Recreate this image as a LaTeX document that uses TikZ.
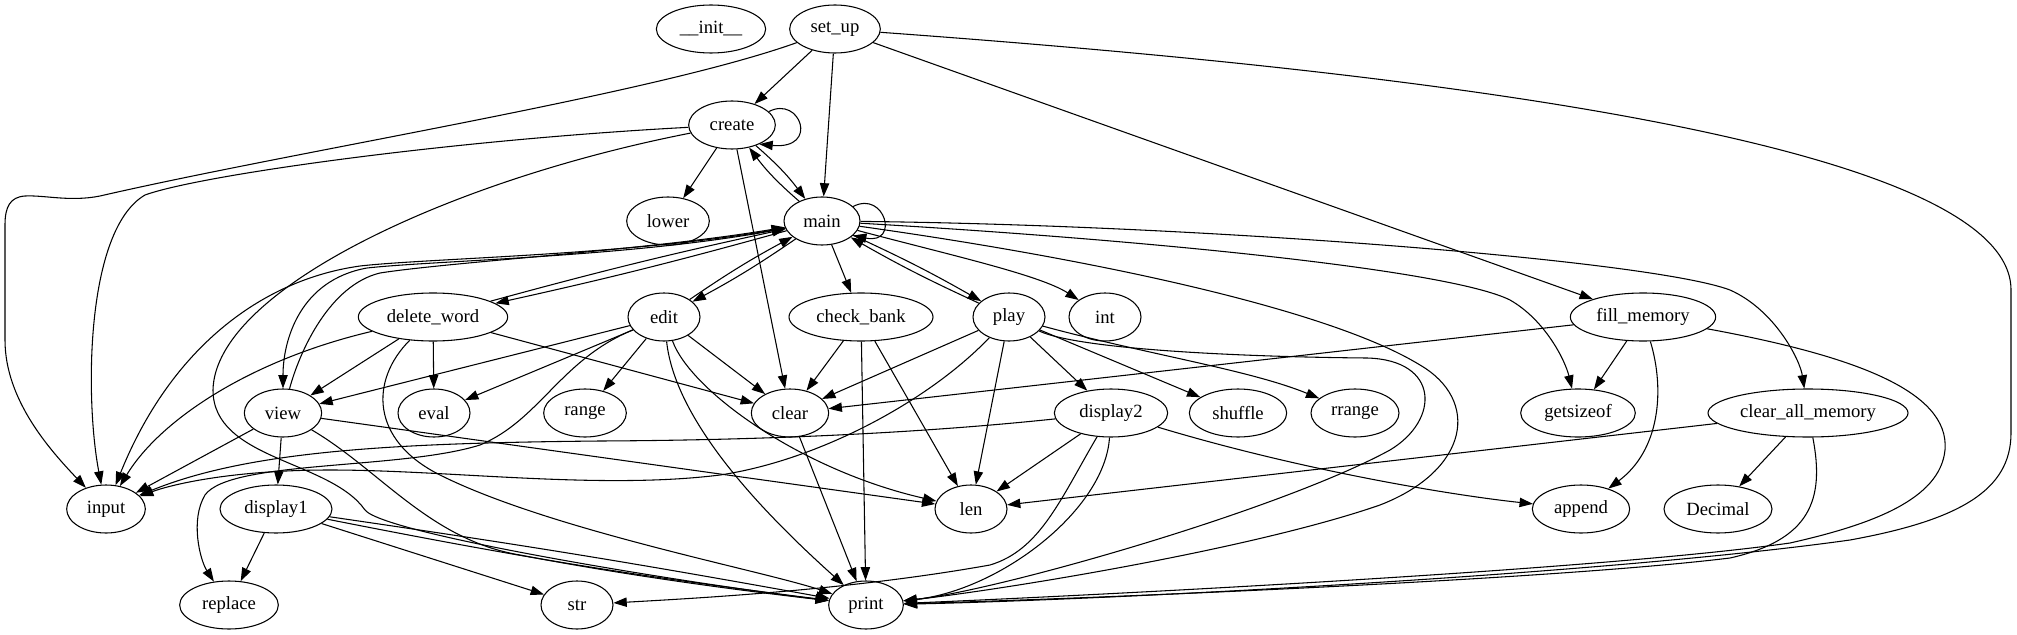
\documentclass[tikz,border=0pt]{standalone}
\usepackage{fontspec}
\setmainfont{Liberation Serif}
\usetikzlibrary{shapes.geometric,arrows.meta}
\begin{document}
\begin{tikzpicture}[x=0.75pt,y=-0.75pt,
  gn/.style={draw,ellipse,inner sep=0pt,minimum height=36pt,line width=0.8pt,font=\fontsize{14}{16}\selectfont},
  e/.style={-{Triangle[length=10pt,width=7pt]},line width=0.8pt}]
\useasboundingbox (0,0) rectangle (2017,635);
% nodes
\node[gn,minimum width=82pt] (init) at (711,29) {\_\_init\_\_};
\node[gn,minimum width=68pt] (setup) at (835,29) {set\_up};
\node[gn,minimum width=65pt] (create) at (732,125) {create};
\node[gn,minimum width=62pt] (lower) at (668,221) {lower};
\node[gn,minimum width=57pt] (main) at (822,221) {main};
\node[gn,minimum width=112pt] (delw) at (433,317) {delete\_word};
\node[gn,minimum width=54pt] (edit) at (664,317) {edit};
\node[gn,minimum width=108pt] (checkb) at (861,317) {check\_bank};
\node[gn,minimum width=54pt] (play) at (1009,317) {play};
\node[gn,minimum width=54pt] (int) at (1105,317) {int};
\node[gn,minimum width=109pt] (fillmem) at (1643,317) {fill\_memory};
\node[gn,minimum width=58pt] (view) at (283,413) {view};
\node[gn,minimum width=54pt] (eval) at (434,413) {eval};
\node[gn,minimum width=62pt] (range) at (585,413) {range};
\node[gn,minimum width=58pt] (clear) at (790,413) {clear};
\node[gn,minimum width=85pt] (disptwo) at (1111,413) {display2};
\node[gn,minimum width=73pt] (shuffle) at (1238,413) {shuffle};
\node[gn,minimum width=66pt] (rrange) at (1355,413) {rrange};
\node[gn,minimum width=86pt] (getsize) at (1578,413) {getsizeof};
\node[gn,minimum width=150pt] (clearall) at (1808,413) {clear\_all\_memory};
\node[gn,minimum width=59pt] (input) at (106,509) {input};
\node[gn,minimum width=84pt] (dispone) at (276,509) {display1};
\node[gn,minimum width=54pt] (len) at (971,509) {len};
\node[gn,minimum width=73pt] (append) at (1581,509) {append};
\node[gn,minimum width=81pt] (decimal) at (1718,509) {Decimal};
\node[gn,minimum width=74pt] (replace) at (229,605) {replace};
\node[gn,minimum width=54pt] (str) at (577,605) {str};
\node[gn,minimum width=56pt] (print) at (866,605) {print};
% set_up
\draw[e] (setup) -- (create);
\draw[e] (setup) -- (main);
\draw[e] (setup) -- (fillmem);
\draw[e] (setup) .. controls (650,95) and (300,150) .. (100,196) .. controls (70,202) and (45,195) .. (25,196) .. controls (10,197) and (5,207) .. (5,225) -- (5,340) .. controls (5,400) and (50,450) .. (input);
\draw[e] (setup) .. controls (1400,70) and (2011,140) .. (2011,290) -- (2011,433) .. controls (2011,490) and (1960,520) .. (1850,540) .. controls (1600,575) and (1100,600) .. (print);
% create
\draw[e] (create.20) .. controls (800,95) and (820,150) .. (create.-35);
\draw[e] (create) -- (lower);
\draw[e] (create) to[bend left=6] (main);
\draw[e] (main) to[bend left=6] (create);
\draw[e] (create) -- (clear);
\draw[e] (create) .. controls (450,140) and (200,175) .. (145,195) .. controls (85,230) and (85,400) .. (input);
\draw[e] (create) .. controls (450,180) and (215,290) .. (213,390) .. controls (213,460) and (330,460) .. (365,510) .. controls (385,535) and (700,585) .. (print);
% main
\draw[e] (main.25) .. controls (885,190) and (900,245) .. (main.-25);
\draw[e] (main) to[bend left=1.5] (delw);
\draw[e] (delw) to[bend left=1.5] (main);
\draw[e] (main) .. controls (640,255) and (430,258) .. (360,266) .. controls (260,280) and (170,350) .. (input);
\draw[e] (main) .. controls (640,257) and (440,260) .. (367,268) .. controls (300,280) and (283,340) .. (view);
\draw[e] (view) .. controls (300,350) and (330,285) .. (380,273) .. controls (450,262) and (650,250) .. (main);
\draw[e] (main) to[bend left=3] (edit);
\draw[e] (edit) to[bend left=3] (main);
\draw[e] (main) -- (checkb);
\draw[e] (main) to[bend left=2.5] (play);
\draw[e] (play) to[bend left=2.5] (main);
\draw[e] (main) .. controls (950,255) and (1040,275) .. (int);
\draw[e] (main) .. controls (1150,240) and (1450,270) .. (1510,300) .. controls (1545,320) and (1565,360) .. (getsize);
\draw[e] (main) .. controls (1200,225) and (1650,260) .. (1730,290) .. controls (1775,310) and (1800,360) .. (clearall);
\draw[e] (main) .. controls (1100,260) and (1330,310) .. (1420,365) .. controls (1480,400) and (1470,470) .. (1380,505) .. controls (1250,550) and (1000,590) .. (print);
% delete_word
\draw[e] (delw) -- (view);
\draw[e] (delw) -- (eval);
\draw[e] (delw) -- (clear);
\draw[e] (delw) .. controls (250,360) and (160,420) .. (input);
\draw[e] (delw) .. controls (370,380) and (370,440) .. (440,475) .. controls (550,530) and (760,570) .. (print);
% edit
\draw[e] (edit) -- (view);
\draw[e] (edit) -- (eval);
\draw[e] (edit) -- (range);
\draw[e] (edit) -- (clear);
\draw[e] (edit) .. controls (690,390) and (800,470) .. (len);
\draw[e] (edit) .. controls (675,420) and (760,510) .. (print);
\draw[e] (edit) .. controls (560,360) and (540,420) .. (480,445) .. controls (400,470) and (230,460) .. (205,495) .. controls (190,520) and (200,560) .. (replace);
% check_bank
\draw[e] (checkb) -- (clear);
\draw[e] (checkb) -- (print);
\draw[e] (checkb) -- (len);
% play
\draw[e] (play) -- (clear);
\draw[e] (play) -- (len);
\draw[e] (play) -- (disptwo);
\draw[e] (play) -- (shuffle);
\draw[e] (play) .. controls (1150,355) and (1250,370) .. (rrange);
\draw[e] (play) .. controls (930,400) and (820,460) .. (720,475) .. controls (600,490) and (450,470) .. (330,470) .. controls (230,470) and (170,485) .. (input);
\draw[e] (play) .. controls (1080,350) and (1250,357) .. (1367,358) .. controls (1440,360) and (1440,420) .. (1390,450) .. controls (1280,510) and (1000,590) .. (print);
% fill_memory
\draw[e] (fillmem) -- (clear);
\draw[e] (fillmem) -- (getsize);
\draw[e] (fillmem) .. controls (1665,390) and (1660,450) .. (append);
\draw[e] (fillmem) .. controls (1850,355) and (1950,390) .. (1945,450) .. controls (1940,500) and (1870,525) .. (1790,543) .. controls (1600,570) and (1100,595) .. (print);
% view
\draw[e] (view) -- (input);
\draw[e] (view) -- (dispone);
\draw[e] (view) -- (len);
\draw[e] (view) .. controls (380,470) and (430,540) .. (520,555) .. controls (650,580) and (780,595) .. (print);
% clear
\draw[e] (clear) -- (print);
% display2
\draw[e] (disptwo) -- (len);
\draw[e] (disptwo) .. controls (1300,470) and (1450,495) .. (append);
\draw[e] (disptwo) .. controls (1060,500) and (1040,550) .. (990,565) .. controls (850,590) and (700,598) .. (str);
\draw[e] (disptwo) .. controls (1105,510) and (1000,590) .. (print);
\draw[e] (disptwo) .. controls (950,430) and (800,440) .. (600,441) .. controls (400,443) and (250,450) .. (input);
% clear_all_memory
\draw[e] (clearall) -- (len);
\draw[e] (clearall) -- (decimal);
\draw[e] (clearall) .. controls (1825,500) and (1810,540) .. (1730,558) .. controls (1550,580) and (1100,598) .. (print);
% display1
\draw[e] (dispone) -- (replace);
\draw[e] (dispone) -- (str);
\draw[e] (dispone) to[bend right=2] (print);
\draw[e] (dispone) to[bend left=1] (print);
\end{tikzpicture}
\end{document}
